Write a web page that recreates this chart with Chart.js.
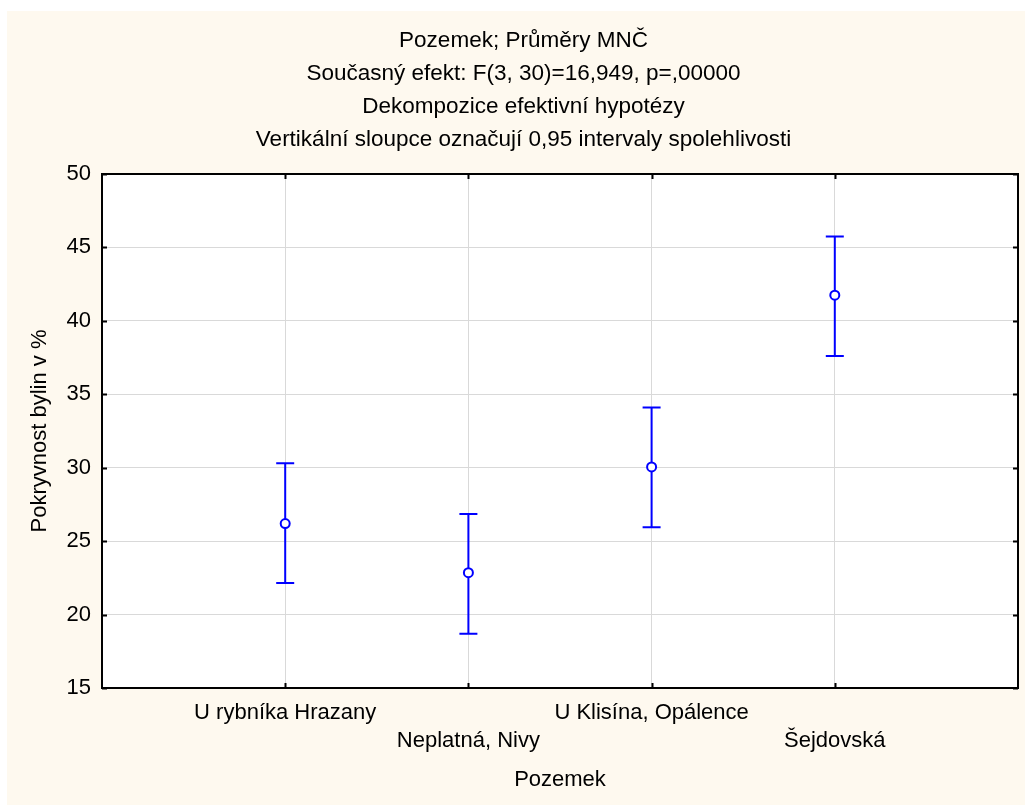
<!DOCTYPE html>
<html>
<head>
<meta charset="utf-8">
<script src="https://cdn.jsdelivr.net/npm/chart.js@4.4.1/dist/chart.umd.min.js"></script>
<style>
    body { margin: 0; background: #ffffff; }
    #wrap { position: absolute; left: 7px; top: 11px; width: 1018px; height: 794px; background: #fef9ef; }
</style>
</head>
<body>
<div id="wrap"><canvas id="chart" width="1018" height="794"></canvas></div>
<script>
const categories = ['U rybníka Hrazany', 'Neplatná, Nivy', 'U Klisína, Opálence', 'Šejdovská'];
const means = [26.2, 22.85, 30.05, 41.75];
const lower = [22.15, 18.7, 25.95, 37.6];
const upper = [30.3, 26.85, 34.1, 45.75];
const yTicks = [15, 20, 25, 30, 35, 40, 45, 50];

const blue = '#0000ff';
const font = { family: '"Liberation Sans", Arial, sans-serif', size: 22 };

// white plot area
const plotBg = {
    id: 'plotBg',
    afterLayout(chart) {
        // title sits a little right of the canvas centre
        const t = chart.titleBlock;
        if (t) { t.left += 22; t.width -= 22; }
    },
    beforeDraw(chart) {
        const { ctx, chartArea: a } = chart;
        ctx.save();
        ctx.fillStyle = '#ffffff';
        ctx.fillRect(a.left, a.top, a.right - a.left, a.bottom - a.top);
        ctx.restore();
    }
};

// error bars, drawn under the points
const errorBars = {
    id: 'errorBars',
    beforeDatasetsDraw(chart) {
        const { ctx, scales: { x, y } } = chart;
        ctx.save();
        ctx.strokeStyle = blue;
        ctx.lineWidth = 2;
        means.forEach((m, i) => {
            const px = x.getPixelForValue(i + 1);
            const top = y.getPixelForValue(upper[i]);
            const bot = y.getPixelForValue(lower[i]);
            ctx.beginPath();
            ctx.moveTo(px, top); ctx.lineTo(px, bot);
            ctx.moveTo(px - 9, top); ctx.lineTo(px + 9, top);
            ctx.moveTo(px - 9, bot); ctx.lineTo(px + 9, bot);
            ctx.stroke();
        });
        ctx.restore();
    }
};

// black frame with inward ticks on all four sides
const frame = {
    id: 'frame',
    afterDraw(chart) {
        const { ctx, chartArea: a, scales: { x, y } } = chart;
        ctx.save();
        ctx.strokeStyle = '#000';
        ctx.lineWidth = 2;
        ctx.strokeRect(a.left, a.top, a.right - a.left, a.bottom - a.top);
        ctx.beginPath();
        yTicks.forEach(v => {
            const py = Math.round(y.getPixelForValue(v)) + 0.5;
            ctx.moveTo(a.left, py); ctx.lineTo(a.left + 5, py);
            ctx.moveTo(a.right, py); ctx.lineTo(a.right - 5, py);
        });
        categories.forEach((c, i) => {
            const px = Math.round(x.getPixelForValue(i + 1)) + 0.5;
            ctx.moveTo(px, a.bottom); ctx.lineTo(px, a.bottom - 5);
            ctx.moveTo(px, a.top); ctx.lineTo(px, a.top + 5);
        });
        ctx.stroke();
        ctx.restore();
    }
};

new Chart(document.getElementById('chart'), {
    type: 'scatter',
    data: {
        datasets: [{
            data: means.map((m, i) => ({ x: i + 1, y: m })),
            pointStyle: 'circle',
            pointRadius: 4.5,
            pointBorderWidth: 2,
            pointBorderColor: blue,
            pointBackgroundColor: '#ffffff',
            showLine: false
        }]
    },
    options: {
        responsive: false,
        animation: false,
        layout: { autoPadding: false, padding: { left: 0, right: 7, top: 0, bottom: 0 } },
        scales: {
            x: {
                type: 'linear',
                min: 0,
                max: 5,
                afterBuildTicks: s => { s.ticks = [0, 1, 2, 3, 4, 5].map(v => ({ value: v })); },
                afterFit: s => { s.height = 117; s.paddingLeft = 0; s.paddingRight = 0; },
                grid: { color: '#d9d9d9', lineWidth: 1, drawTicks: false },
                border: { display: false },
                ticks: {
                    color: '#000',
                    font: { ...font, lineHeight: '28px' },
                    padding: 11,
                    maxRotation: 0,
                    autoSkip: false,
                    callback: v => {
                        const label = categories[v - 1];
                        if (!label) return '';
                        return v % 2 === 0 ? ['', label] : label;
                    }
                },
                title: { display: true, text: 'Pozemek', color: '#000', font, padding: { top: 0, bottom: 12 } }
            },
            y: {
                min: 15,
                max: 50,
                afterBuildTicks: s => { s.ticks = yTicks.map(v => ({ value: v })); },
                afterFit: s => { s.width = 95; },
                grid: { color: '#d9d9d9', lineWidth: 1, drawTicks: false },
                border: { display: false },
                ticks: { color: '#000', font, padding: 11 },
                title: { display: true, text: 'Pokryvnost bylin v %', color: '#000', font, padding: { top: 20, bottom: 0 } }
            }
        },
        plugins: {
            legend: { display: false },
            tooltip: { enabled: false },
            title: {
                display: true,
                text: [
                    'Pozemek; Průměry MNČ',
                    'Současný efekt: F(3, 30)=16,949, p=,00000',
                    'Dekompozice efektivní hypotézy',
                    'Vertikální sloupce označují 0,95 intervaly spolehlivosti'
                ],
                color: '#000',
                font: { ...font, size: 22.5, weight: 'normal', lineHeight: '33px' },
                padding: { top: 13.5, bottom: 17.5 }
            }
        }
    },
    plugins: [plotBg, errorBars, frame]
});
</script>
</body>
</html>
